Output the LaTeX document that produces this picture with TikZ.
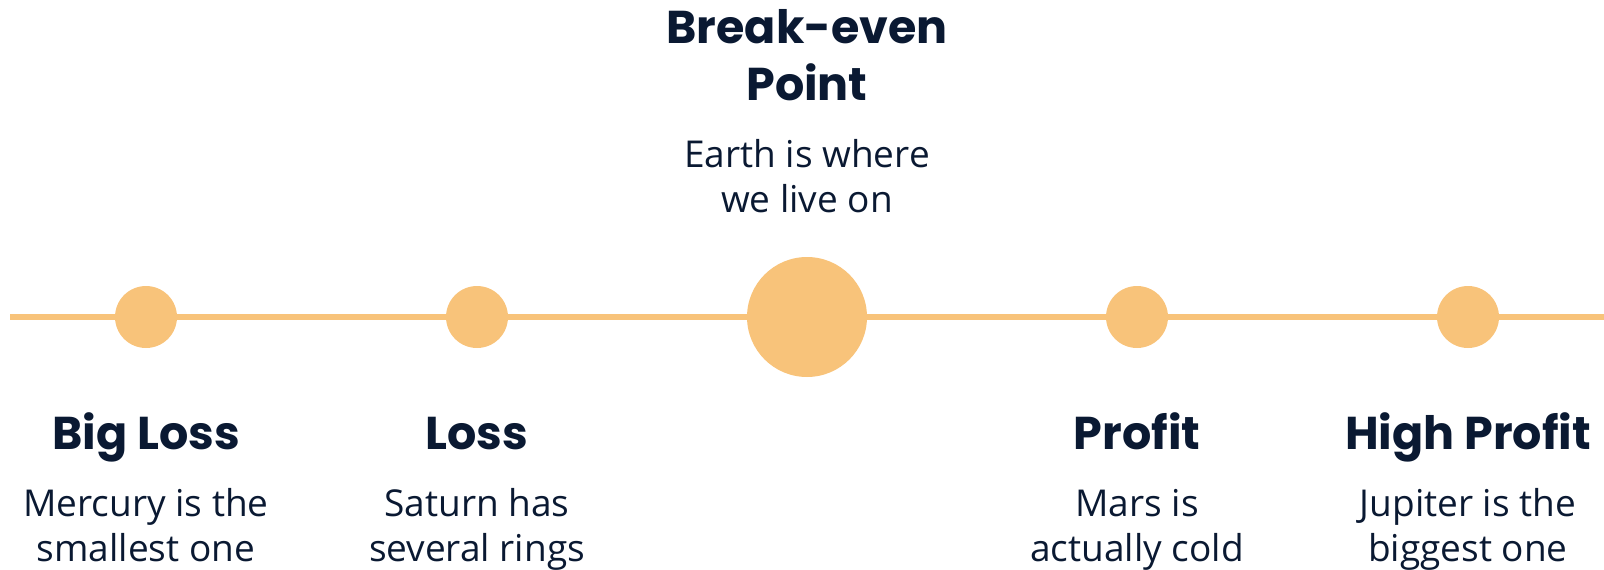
\documentclass[tikz,border=0pt]{standalone}
\usepackage{fontspec}
\setmainfont{Open Sans}
\newfontfamily\headfont{Poppins}
\usetikzlibrary{positioning}
\definecolor{figink}{RGB}{10,25,50}
\definecolor{figsand}{RGB}{248,195,122}
\tikzset{
  dot/.style={
    circle, fill=figsand, draw=none,
    minimum size=62pt, inner sep=0pt
  },
  bigdot/.style={dot, minimum size=120pt},
  head/.style={
    anchor=base, align=center, text=figink,
    font=\headfont\bfseries\fontsize{46}{57}\selectfont
  },
  desc/.style={
    anchor=base, align=center, text=figink,
    font=\fontsize{37}{44.5}\selectfont
  },
  track/.style={line width=6pt, draw=figsand}
}

\begin{document}
\begin{tikzpicture}[x=1pt, y=1pt]
  \useasboundingbox (0,0) rectangle (1604,-570);

  % Markers on the axis
  \coordinate (left) at (10,-317);
  \coordinate (right) at (1604,-317);
  \node[dot] (bigloss) at (146,-317) {};
  \node[dot] (loss) at (477,-317) {};
  \node[bigdot] (breakeven) at (807,-317) {};
  \node[dot] (profit) at (1137,-317) {};
  \node[dot] (highprofit) at (1468,-317) {};

  % Axis segments between the markers
  \draw[track] (left) -- (bigloss) -- (loss) -- (breakeven)
    -- (profit) -- (highprofit) -- (right);

  % Label above the centre marker (base = last line)
  \node[head] (breakeven-head) at (807,-100) {Break-even\\Point};
  \node[desc] (breakeven-desc) at (807,-212) {Earth is where\\we live on};

  % Labels below the other markers
  \node[head] (bigloss-head) at (146,-449) {Big Loss};
  \node[desc] (bigloss-desc) at (146,-561) {Mercury is the\\smallest one};
  \node[head] (loss-head) at (477,-449) {Loss};
  \node[desc] (loss-desc) at (477,-561) {Saturn has\\several rings};
  \node[head] (profit-head) at (1137,-449) {Profit};
  \node[desc] (profit-desc) at (1137,-561) {Mars is\\actually cold};
  \node[head] (highprofit-head) at (1468,-449) {High Profit};
  \node[desc] (highprofit-desc) at (1468,-561) {Jupiter is the\\biggest one};

\end{tikzpicture}
\end{document}
